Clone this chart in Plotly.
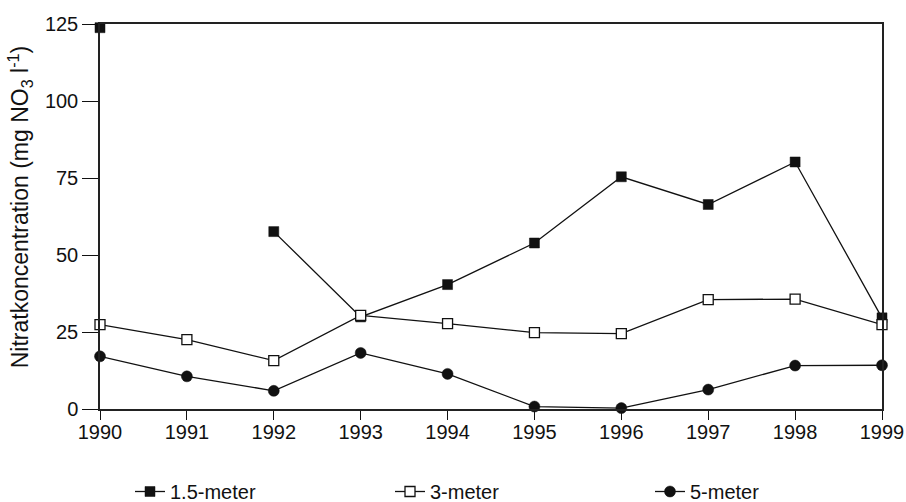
import plotly.graph_objects as go

# Nitrate concentration in groundwater at three sampling depths, 1990-1999
years = [1990, 1991, 1992, 1993, 1994, 1995, 1996, 1997, 1998, 1999]
depth_15m = [123.8, None, 57.6, 29.9, 40.4, 53.9, 75.4, 66.4, 80.2, 29.6]
depth_3m = [27.4, 22.5, 15.7, 30.4, 27.7, 24.8, 24.5, 35.5, 35.7, 27.4]
depth_5m = [17.1, 10.6, 5.9, 18.2, 11.4, 0.8, 0.3, 6.3, 14.1, 14.2]
y_ticks = [0, 25, 50, 75, 100, 125]
series_names = ["1.5-meter", "3-meter", "5-meter"]

FONT = "Liberation Sans, Arial, sans-serif"
INK = "#111111"

fig = go.Figure()

fig.add_trace(go.Scatter(
    x=years, y=depth_15m, name=series_names[0], mode="lines+markers",
    connectgaps=False, cliponaxis=False,
    line=dict(color=INK, width=1.3),
    marker=dict(symbol="square", size=10, color=INK, line=dict(color=INK, width=0.5)),
))
fig.add_trace(go.Scatter(
    x=years, y=depth_3m, name=series_names[1], mode="lines+markers",
    cliponaxis=False,
    line=dict(color=INK, width=1.3),
    marker=dict(symbol="square", size=10, color="white", line=dict(color=INK, width=1.3)),
))
fig.add_trace(go.Scatter(
    x=years, y=depth_5m, name=series_names[2], mode="lines+markers",
    cliponaxis=False,
    line=dict(color=INK, width=1.3),
    marker=dict(symbol="circle", size=11, color=INK, line=dict(color=INK, width=0.5)),
))

fig.update_layout(
    width=906, height=502,
    margin=dict(l=100, r=24, t=24, b=93, autoexpand=False),
    paper_bgcolor="white", plot_bgcolor="white",
    font=dict(family=FONT, size=20, color=INK),
    xaxis=dict(
        range=[1990, 1999], tickvals=years, ticktext=[str(y) for y in years],
        ticks="outside", ticklen=9, tickwidth=1.3, tickcolor=INK,
        showline=True, linewidth=1.5, linecolor="#222222", mirror=True,
        showgrid=False, zeroline=False, ticklabelstandoff=-5,
        tickfont=dict(size=20, family=FONT, color=INK),
    ),
    # short inside tick marks so the year ticks cross the axis line
    xaxis2=dict(
        range=[1990, 1999], tickvals=years, overlaying="x", anchor="y",
        side="bottom", ticks="inside", ticklen=4, tickwidth=1.3, tickcolor=INK,
        showticklabels=False, showline=False, showgrid=False, zeroline=False,
    ),
    yaxis=dict(
        range=[0, 125], tickvals=y_ticks,
        ticks="outside", ticklen=16, tickwidth=1.3, tickcolor=INK,
        showline=True, linewidth=1.5, linecolor="#222222", mirror=True,
        showgrid=False, zeroline=False,
        tickfont=dict(size=20, family=FONT, color=INK),
    ),
    legend=dict(
        orientation="h", xref="container", yref="container",
        x=130 / 906, y=1 - 472 / 502, xanchor="left", yanchor="top",
        entrywidth=215, entrywidthmode="pixels",
        font=dict(size=20, family=FONT, color=INK),
        bgcolor="rgba(0,0,0,0)", traceorder="normal",
    ),
    annotations=[dict(
        text="Nitratkoncentration (mg NO<sub>3</sub> l<sup>-1</sup>)",
        xref="paper", yref="paper", x=-80 / 782, y=0.524,
        xanchor="center", yanchor="middle", textangle=-90, showarrow=False,
        font=dict(size=23, family=FONT, color=INK),
    )],
    showlegend=True,
)

fig.write_html("out.html")
